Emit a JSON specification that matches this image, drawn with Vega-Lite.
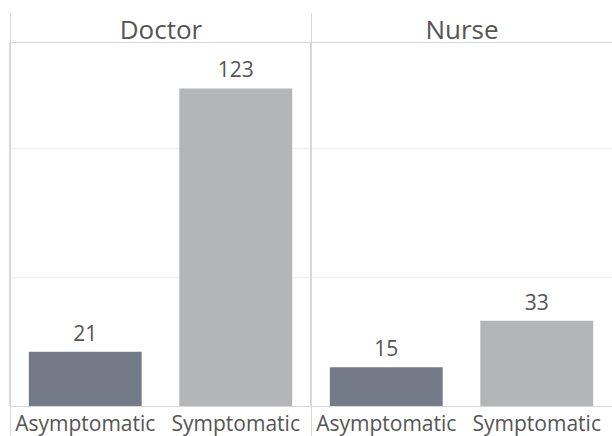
{
  "$schema": "https://vega.github.io/schema/vega-lite/v6.json",
  "width": 602,
  "height": 364,
  "autosize": "none",
  "padding": {"left": 10, "top": 42, "right": 0, "bottom": 30},
  "background": "white",
  "config": {
    "font": "Open Sans",
    "view": {"stroke": null},
    "axis": {"labelFont": "Open Sans", "labelColor": "#555555"}
  },
  "datasets": {
    "cases": [
      {"role": "Doctor", "status": "Asymptomatic", "key": "Doctor|Asymptomatic", "count": 21},
      {"role": "Doctor", "status": "Symptomatic", "key": "Doctor|Symptomatic", "count": 123},
      {"role": "Nurse", "status": "Asymptomatic", "key": "Nurse|Asymptomatic", "count": 15},
      {"role": "Nurse", "status": "Symptomatic", "key": "Nurse|Symptomatic", "count": 33}
    ]
  },
  "data": {"name": "cases"},
  "layer": [
    {
      "mark": {"type": "bar"},
      "encoding": {
        "x": {
          "field": "key",
          "type": "nominal",
          "sort": null,
          "scale": {"paddingInner": 0.25, "paddingOuter": 0.125},
          "axis": {
            "orient": "bottom",
            "title": null,
            "labelAngle": 0,
            "labelExpr": "split(datum.label, '|')[1]",
            "labelFontSize": 21,
            "labelPadding": 24,
            "labelBaseline": "alphabetic",
            "ticks": false,
            "grid": false,
            "domain": true,
            "domainColor": "#d6d6d6",
            "domainWidth": 1
          }
        },
        "y": {
          "field": "count",
          "type": "quantitative",
          "scale": {"domain": [0, 141], "nice": false},
          "axis": {
            "title": null,
            "labels": false,
            "ticks": false,
            "domain": false,
            "values": [50, 100],
            "grid": true,
            "gridColor": "#f1f1f1",
            "gridWidth": 1.5
          }
        },
        "color": {
          "field": "status",
          "type": "nominal",
          "scale": {"domain": ["Asymptomatic", "Symptomatic"], "range": ["#737b88", "#b3b5b6"]},
          "legend": null
        }
      }
    },
    {
      "mark": {"type": "text", "baseline": "alphabetic", "dy": -11, "fontSize": 21, "color": "#555555"},
      "encoding": {
        "x": {
          "field": "key",
          "type": "nominal",
          "sort": null,
          "scale": {"paddingInner": 0.25, "paddingOuter": 0.125},
          "axis": null
        },
        "y": {"field": "count", "type": "quantitative", "scale": {"domain": [0, 141], "nice": false}},
        "text": {"field": "count", "type": "quantitative"}
      }
    },
    {
      "mark": {"type": "rule", "color": "#d6d6d6", "strokeWidth": 1},
      "encoding": {
        "x": {
          "field": "role",
          "type": "nominal",
          "bandPosition": 0,
          "scale": {"paddingInner": 0, "paddingOuter": 0},
          "axis": {
            "orient": "top",
            "title": null,
            "labelAngle": 0,
            "labelFontSize": 26,
            "labelColor": "#555555",
            "labelBaseline": "alphabetic",
            "labelPadding": -25,
            "ticks": true,
            "tickBand": "extent",
            "tickSize": 29,
            "tickColor": "#d6d6d6",
            "domain": true,
            "domainColor": "#d6d6d6",
            "grid": false
          }
        }
      }
    },
    {
      "mark": {"type": "rule", "color": "#d6d6d6", "strokeWidth": 1},
      "encoding": {
        "x": {
          "field": "role",
          "type": "nominal",
          "bandPosition": 0,
          "scale": {"paddingInner": 0, "paddingOuter": 0},
          "axis": {
            "orient": "bottom",
            "title": null,
            "labels": false,
            "ticks": true,
            "tickBand": "extent",
            "tickSize": 30,
            "tickColor": "#d6d6d6",
            "domain": false,
            "grid": false
          }
        }
      }
    }
  ],
  "resolve": {"scale": {"x": "independent", "y": "shared"}, "axis": {"x": "independent"}}
}
